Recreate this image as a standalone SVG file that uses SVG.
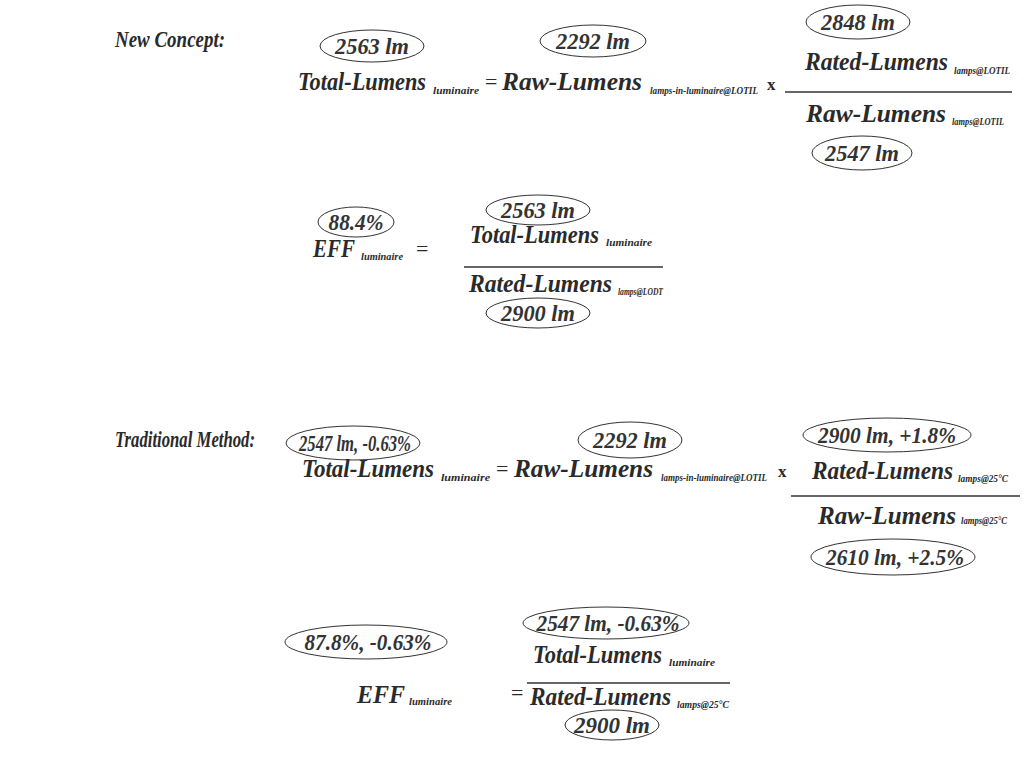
<svg xmlns="http://www.w3.org/2000/svg" width="1026" height="766" viewBox="0 0 1026 766">
<style>
.h{font-family:"Liberation Serif",serif;font-weight:bold;font-style:italic;font-size:24px;fill:#2a2a2a}
.f{font-family:"Liberation Serif",serif;font-weight:bold;font-style:italic;font-size:25px;fill:#2a2a2a}
.s{font-family:"Liberation Serif",serif;font-weight:bold;font-style:italic;font-size:10px;fill:#2a2a2a}
.v{font-family:"Liberation Serif",serif;font-weight:bold;font-style:italic;font-size:23px;fill:#333;text-anchor:middle}
.eq{font-family:"Liberation Serif",serif;font-size:22px;fill:#2a2a2a}
.x{font-family:"Liberation Serif",serif;font-weight:bold;font-size:17px;fill:#2a2a2a}
.o{fill:none;stroke:#333;stroke-width:1}
.ln{stroke:#333;stroke-width:1.3}
</style>
<rect width="1026" height="766" fill="#fff"/>

<g id="title-new">
<text class="h" x="115" y="47" textLength="110" lengthAdjust="spacingAndGlyphs">New Concept:</text>
</g>

<g id="eq1">
<g id="v1a"><ellipse class="o" cx="372" cy="46" rx="52" ry="16"/><text class="v" x="372" y="54" textLength="74" lengthAdjust="spacingAndGlyphs">2563 lm</text></g>
<g id="v1b"><ellipse class="o" cx="593" cy="41" rx="53" ry="16"/><text class="v" x="593" y="49" textLength="74" lengthAdjust="spacingAndGlyphs">2292 lm</text></g>
<g id="v1c"><ellipse class="o" cx="858" cy="22" rx="52" ry="17"/><text class="v" x="858" y="30" textLength="74" lengthAdjust="spacingAndGlyphs">2848 lm</text></g>
<text class="f" x="298" y="90" textLength="128" lengthAdjust="spacingAndGlyphs">Total-Lumens</text>
<text class="s" x="433" y="94" textLength="46" lengthAdjust="spacingAndGlyphs">luminaire</text>
<text class="eq" x="485" y="89">=</text>
<text class="f" x="502" y="90" textLength="140" lengthAdjust="spacingAndGlyphs">Raw-Lumens</text>
<text class="s" x="650" y="94" textLength="108" lengthAdjust="spacingAndGlyphs">lamps-in-luminaire@LOTIL</text>
<text class="x" x="767" y="90">x</text>
<text class="f" x="805" y="70" textLength="143" lengthAdjust="spacingAndGlyphs">Rated-Lumens</text>
<text class="s" x="954" y="74" textLength="56" lengthAdjust="spacingAndGlyphs">lamps@LOTIL</text>
<line class="ln" x1="785" y1="92" x2="1012" y2="92"/>
<text class="f" x="806" y="122" textLength="140" lengthAdjust="spacingAndGlyphs">Raw-Lumens</text>
<text class="s" x="952" y="125" textLength="52" lengthAdjust="spacingAndGlyphs">lamps@LOTIL</text>
<g id="v1d"><ellipse class="o" cx="862" cy="153" rx="50" ry="17"/><text class="v" x="862" y="161" textLength="74" lengthAdjust="spacingAndGlyphs">2547 lm</text></g>
</g>

<g id="eq2">
<g id="v2a"><ellipse class="o" cx="356" cy="222" rx="38" ry="15"/><text class="v" x="356" y="230" textLength="55" lengthAdjust="spacingAndGlyphs">88.4%</text></g>
<g id="v2b"><ellipse class="o" cx="538" cy="210" rx="52" ry="15"/><text class="v" x="538" y="218" textLength="74" lengthAdjust="spacingAndGlyphs">2563 lm</text></g>
<text class="f" x="313" y="257" textLength="42" lengthAdjust="spacingAndGlyphs">EFF</text>
<text class="s" x="361" y="260" textLength="42" lengthAdjust="spacingAndGlyphs">luminaire</text>
<text class="eq" x="416" y="256">=</text>
<text class="f" x="470" y="243" textLength="129" lengthAdjust="spacingAndGlyphs">Total-Lumens</text>
<text class="s" x="606" y="246" textLength="46" lengthAdjust="spacingAndGlyphs">luminaire</text>
<line class="ln" x1="464" y1="267" x2="663" y2="267"/>
<text class="f" x="469" y="292" textLength="143" lengthAdjust="spacingAndGlyphs">Rated-Lumens</text>
<text class="s" x="618" y="295" textLength="45" lengthAdjust="spacingAndGlyphs">lamps@LODT</text>
<g id="v2c"><ellipse class="o" cx="538" cy="313" rx="52" ry="15"/><text class="v" x="538" y="321" textLength="74" lengthAdjust="spacingAndGlyphs">2900 lm</text></g>
</g>

<g id="title-trad">
<text class="h" x="115" y="447" textLength="140" lengthAdjust="spacingAndGlyphs">Traditional Method:</text>
</g>

<g id="eq3">
<g id="v3a"><ellipse class="o" cx="353" cy="443" rx="67" ry="17"/><text class="v" x="355" y="451" textLength="112" lengthAdjust="spacingAndGlyphs">2547 lm, -0.63%</text></g>
<g id="v3b"><ellipse class="o" cx="630" cy="440" rx="52" ry="18"/><text class="v" x="630" y="448" textLength="74" lengthAdjust="spacingAndGlyphs">2292 lm</text></g>
<g id="v3c"><ellipse class="o" cx="887" cy="435" rx="84" ry="17"/><text class="v" x="887" y="443" textLength="138" lengthAdjust="spacingAndGlyphs">2900 lm, +1.8%</text></g>
<text class="f" x="302" y="477" textLength="132" lengthAdjust="spacingAndGlyphs">Total-Lumens</text>
<text class="s" x="441" y="481" textLength="49" lengthAdjust="spacingAndGlyphs">luminaire</text>
<text class="eq" x="496" y="476">=</text>
<text class="f" x="514" y="477" textLength="139" lengthAdjust="spacingAndGlyphs">Raw-Lumens</text>
<text class="s" x="661" y="481" textLength="106" lengthAdjust="spacingAndGlyphs">lamps-in-luminaire@LOTIL</text>
<text class="x" x="778" y="477">x</text>
<text class="f" x="812" y="479" textLength="141" lengthAdjust="spacingAndGlyphs">Rated-Lumens</text>
<text class="s" x="958" y="482" textLength="50" lengthAdjust="spacingAndGlyphs">lamps@25°C</text>
<line class="ln" x1="791" y1="496" x2="1020" y2="496"/>
<text class="f" x="818" y="524" textLength="138" lengthAdjust="spacingAndGlyphs">Raw-Lumens</text>
<text class="s" x="961" y="524" textLength="46" lengthAdjust="spacingAndGlyphs">lamps@25°C</text>
<g id="v3d"><ellipse class="o" cx="893" cy="557" rx="82" ry="18"/><text class="v" x="895" y="565" textLength="138" lengthAdjust="spacingAndGlyphs">2610 lm, +2.5%</text></g>
</g>

<g id="eq4">
<g id="v4a"><ellipse class="o" cx="366" cy="642" rx="81" ry="17"/><text class="v" x="368" y="650" textLength="127" lengthAdjust="spacingAndGlyphs">87.8%, -0.63%</text></g>
<g id="v4b"><ellipse class="o" cx="606" cy="623" rx="83" ry="16"/><text class="v" x="608" y="631" textLength="143" lengthAdjust="spacingAndGlyphs">2547 lm, -0.63%</text></g>
<text class="f" x="357" y="703" textLength="48" lengthAdjust="spacingAndGlyphs">EFF</text>
<text class="s" x="409" y="705" textLength="43" lengthAdjust="spacingAndGlyphs">luminaire</text>
<text class="eq" x="511" y="700">=</text>
<text class="f" x="533" y="663" textLength="129" lengthAdjust="spacingAndGlyphs">Total-Lumens</text>
<text class="s" x="669" y="666" textLength="46" lengthAdjust="spacingAndGlyphs">luminaire</text>
<line class="ln" x1="527" y1="683" x2="730" y2="683"/>
<text class="f" x="530" y="705" textLength="141" lengthAdjust="spacingAndGlyphs">Rated-Lumens</text>
<text class="s" x="677" y="708" textLength="52" lengthAdjust="spacingAndGlyphs">lamps@25°C</text>
<g id="v4c"><ellipse class="o" cx="612" cy="725" rx="47" ry="15"/><text class="v" x="612" y="733" textLength="76" lengthAdjust="spacingAndGlyphs">2900 lm</text></g>
</g>
</svg>
